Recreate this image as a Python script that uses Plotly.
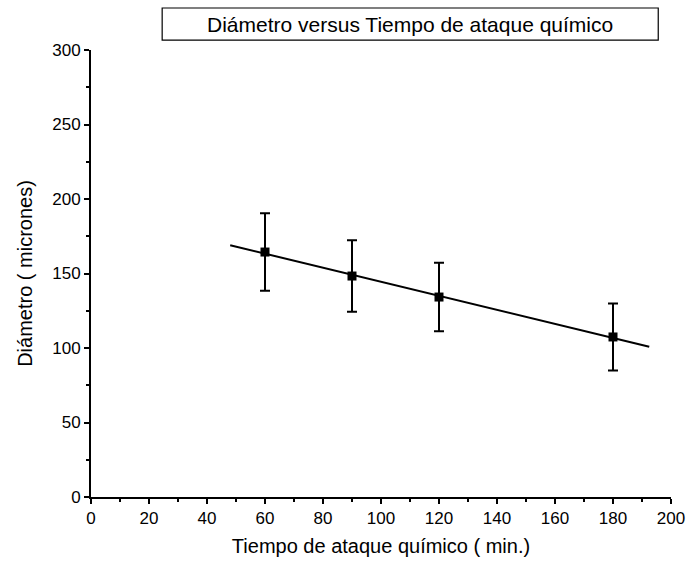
import numpy as np
import plotly.graph_objects as go

# Data
tiempo = [60, 90, 120, 180]              # min
diametro = [164.4, 148.3, 134.2, 107.4]  # micrones
error = [26, 24, 23, 22.5]

fit_range = [48, 192.5]

title_text = "Diámetro versus Tiempo de ataque químico"
x_title = "Tiempo de ataque químico ( min.)"
y_title = "Diámetro ( micrones)"

slope, intercept = np.polyfit(tiempo, diametro, 1)
fit_x = np.array(fit_range)
fit_y = slope * fit_x + intercept

fig = go.Figure()
fig.add_trace(go.Scatter(x=fit_x, y=fit_y, mode="lines",
                         line=dict(color="black", width=2),
                         showlegend=False, hoverinfo="skip"))
fig.add_trace(go.Scatter(x=tiempo, y=diametro, mode="markers",
                         marker=dict(symbol="square", size=9, color="black"),
                         error_y=dict(type="data", array=error, visible=True,
                                      color="black", thickness=2, width=5),
                         showlegend=False))

font = "Liberation Sans, Arial, sans-serif"
fig.update_layout(
    width=697, height=569,
    margin=dict(l=91, r=19, t=50, b=72),
    paper_bgcolor="white", plot_bgcolor="white",
    font=dict(family=font, color="black", size=17),
    xaxis=dict(range=[0, 200], tickmode="linear", tick0=0, dtick=20,
               showgrid=False, zeroline=False, showline=True,
               linecolor="black", linewidth=2, ticks="outside",
               ticklen=5, tickwidth=1.5, tickcolor="black",
               minor=dict(dtick=10, ticks="outside", ticklen=3,
                          tickwidth=1.5, tickcolor="black"),
               title=dict(text=x_title, font=dict(size=20), standoff=12),
               tickfont=dict(size=17)),
    yaxis=dict(range=[0, 300], tickmode="linear", tick0=0, dtick=50,
               showgrid=False, zeroline=False, showline=True,
               linecolor="black", linewidth=2, ticks="outside",
               ticklen=5, tickwidth=1.5, tickcolor="black",
               minor=dict(dtick=25, ticks="outside", ticklen=3,
                          tickwidth=1.5, tickcolor="black"),
               title=dict(text=y_title, font=dict(size=20), standoff=14),
               tickfont=dict(size=17)),
    shapes=[dict(type="rect", xref="paper", yref="paper",
                 x0=0.1227, x1=0.978, y0=1.022, y1=1.094,
                 line=dict(color="black", width=1.2), fillcolor="white")],
    annotations=[dict(text=title_text, xref="paper", yref="paper",
                      x=0.55, y=1.058, xanchor="center", yanchor="middle",
                      showarrow=False, font=dict(size=21))],
)

fig.write_html("out.html")
